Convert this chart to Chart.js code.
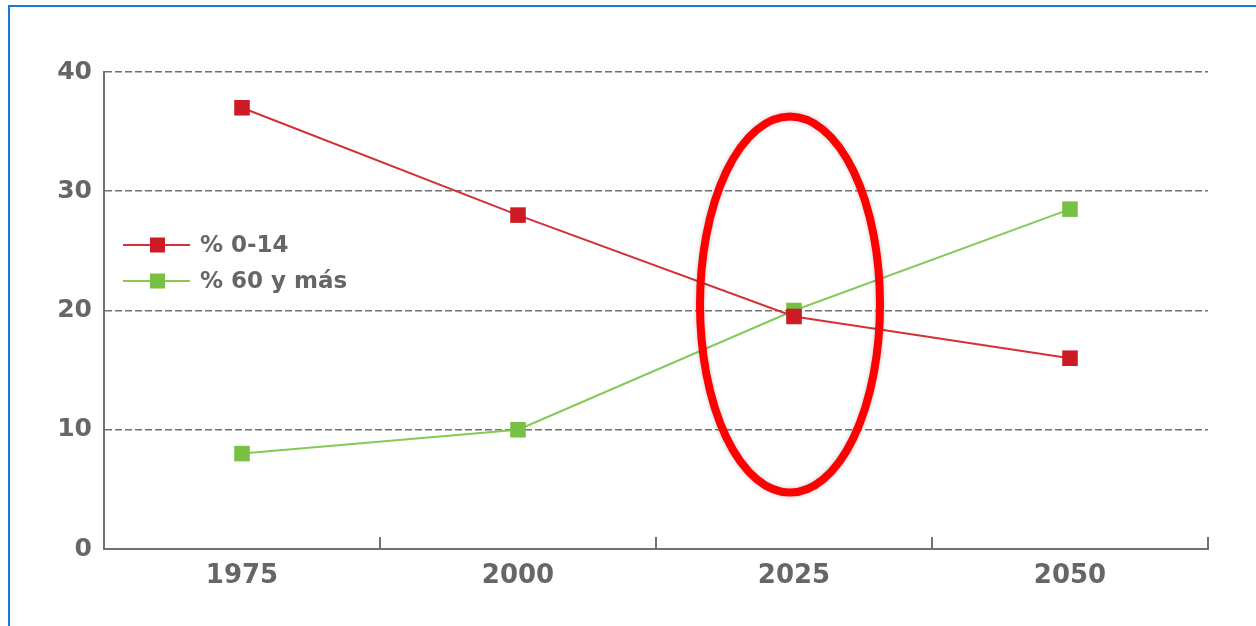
<!DOCTYPE html>
<html><head><meta charset="utf-8">
<script src="https://cdn.jsdelivr.net/npm/chart.js@4"></script>
<style>
html,body{margin:0;padding:0;background:#fff;overflow:hidden}
#wrap{position:relative;width:1256px;height:626px}
#frame{position:absolute;left:8px;top:5px;width:1270px;height:660px;border-left:2px solid #1b7bd3;border-top:2px solid #1b7bd3;pointer-events:none}
canvas{position:absolute;left:0;top:0}
</style></head>
<body><div id="wrap"><canvas id="c" width="1256" height="626"></canvas><div id="frame"></div></div>
<script>
const categories = ['1975', '2000', '2025', '2050'];
const seriesLabels = ['% 0-14', '% 60 y más'];
const youngValues = [37, 28, 19.5, 16];
const oldValues = [8, 10, 20, 28.5];
const yTicks = [0, 10, 20, 30, 40];
const highlightCategory = '2025';
const highlightValue = 20.5;

const RED = '#cc1b24', RED_LINE = '#d3303a';
const GREEN = '#78c043', GREEN_LINE = '#86c957';
const GREY = '#707070', TEXT = '#666666';
const FONT = 'DejaVu Sans';

const insideTicks = {
  id: 'insideTicks',
  afterDraw(chart) {
    const x = chart.scales.x, ctx = chart.ctx, b = chart.chartArea.bottom;
    ctx.save();
    ctx.strokeStyle = GREY; ctx.lineWidth = 2;
    for (let i = 1; i <= categories.length; i++) {
      const px = Math.round(x.getPixelForValue(i - 0.5));
      ctx.beginPath(); ctx.moveTo(px, b - 12); ctx.lineTo(px, b); ctx.stroke();
    }
    ctx.restore();
  }
};

const customLegend = {
  id: 'customLegend',
  afterDraw(chart) {
    const ctx = chart.ctx, a = chart.chartArea;
    const rows = [a.top + 173, a.top + 209];
    ctx.save();
    chart.data.datasets.forEach((ds, i) => {
      const y = rows[i];
      ctx.strokeStyle = ds.borderColor; ctx.lineWidth = 2;
      ctx.beginPath(); ctx.moveTo(a.left + 19, y); ctx.lineTo(a.left + 86, y); ctx.stroke();
      ctx.fillStyle = ds.pointBackgroundColor;
      ctx.fillRect(a.left + 46, y - 7.5, 15, 15);
      ctx.fillStyle = TEXT;
      ctx.font = 'bold 23px "' + FONT + '"';
      ctx.textBaseline = 'middle'; ctx.textAlign = 'left';
      ctx.fillText(ds.label, a.left + 96, y + 1);
    });
    ctx.restore();
  }
};

const highlight = {
  id: 'highlight',
  afterDatasetsDraw(chart) {
    const ctx = chart.ctx;
    const cx = chart.scales.x.getPixelForValue(categories.indexOf(highlightCategory)) - 4;
    const cy = chart.scales.y.getPixelForValue(highlightValue);
    ctx.save();
    ctx.shadowColor = 'rgba(0,0,0,0.25)'; ctx.shadowBlur = 4;
    ctx.strokeStyle = '#ff0000'; ctx.lineWidth = 8;
    ctx.beginPath(); ctx.ellipse(cx, cy, 90, 188, 0, 0, Math.PI * 2); ctx.stroke();
    ctx.restore();
  }
};

new Chart(document.getElementById('c'), {
  type: 'line',
  data: {
    labels: categories,
    datasets: [
      { label: seriesLabels[0], data: youngValues, borderColor: RED_LINE, borderWidth: 2,
        pointStyle: 'rect', pointRadius: 11, pointBackgroundColor: RED, pointBorderColor: RED,
        pointBorderWidth: 0, tension: 0, fill: false },
      { label: seriesLabels[1], data: oldValues, borderColor: GREEN_LINE, borderWidth: 2,
        pointStyle: 'rect', pointRadius: 11, pointBackgroundColor: GREEN, pointBorderColor: GREEN,
        pointBorderWidth: 0, tension: 0, fill: false }
    ]
  },
  options: {
    responsive: false, animation: false, devicePixelRatio: 1,
    layout: { padding: { top: 72, right: 48, bottom: 0, left: 0 } },
    plugins: { legend: { display: false }, tooltip: { enabled: false } },
    scales: {
      x: {
        type: 'category', offset: true,
        grid: { display: false, offset: true },
        border: { display: true, color: GREY, width: 2 },
        ticks: { color: TEXT, font: { family: FONT, size: 26, weight: 'bold' }, padding: 4 },
        afterFit(s) { s.height = 77; }
      },
      y: {
        min: yTicks[0], max: yTicks[yTicks.length - 1],
        afterBuildTicks(s) { s.ticks = yTicks.map(v => ({ value: v })); },
        grid: {
          color: c => (c.tick && c.tick.value === 0) ? 'rgba(0,0,0,0)' : GREY,
          lineWidth: 1.6, drawTicks: false
        },
        border: { display: true, color: GREY, width: 2, dash: [7, 3] },
        ticks: { color: TEXT, font: { family: FONT, size: 25, weight: 'bold' }, padding: 12 },
        afterFit(s) { s.width = 104; }
      }
    }
  },
  plugins: [insideTicks, highlight, customLegend]
});
</script>
</body></html>
